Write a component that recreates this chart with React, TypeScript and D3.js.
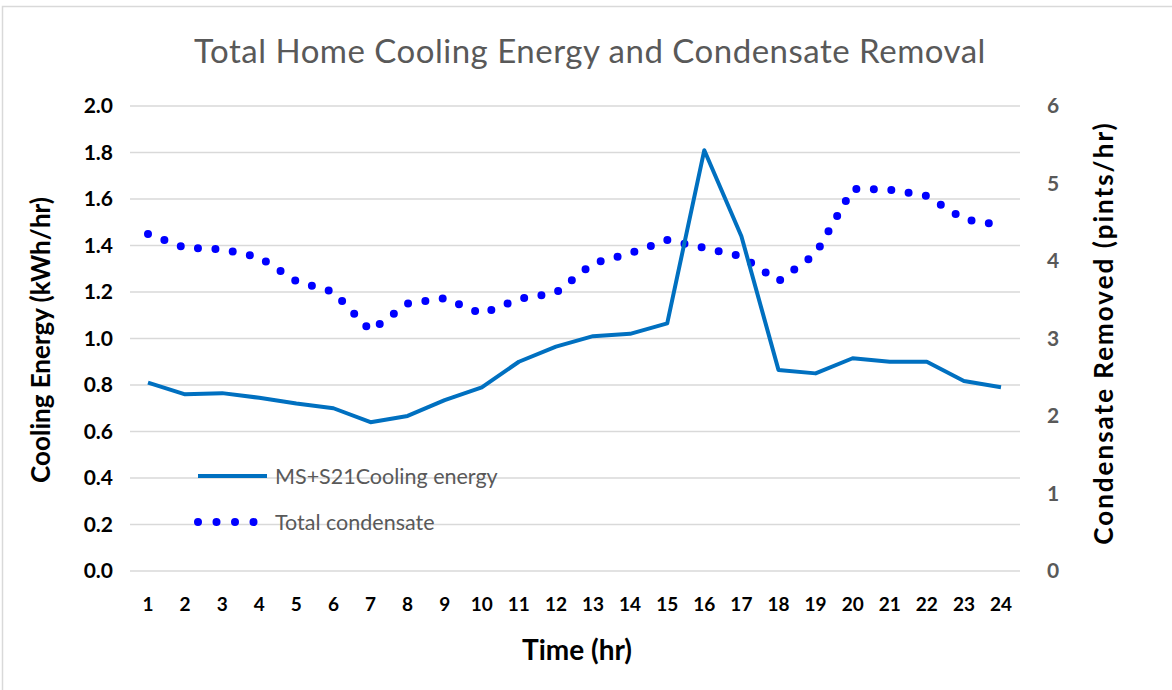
import React, { useEffect, useRef } from "react";
import * as d3 from "d3";

// hours on the x axis
const hours = d3.range(1, 25).map(String);

// MS+S21 cooling energy, kWh/hr (left axis)
const coolingEnergy = [
  0.81, 0.76, 0.765, 0.745, 0.72, 0.70, 0.64, 0.667, 0.735, 0.79, 0.90, 0.965,
  1.01, 1.02, 1.065, 1.81, 1.44, 0.865, 0.85, 0.915, 0.90, 0.90, 0.817, 0.79,
];

// total condensate, pints/hr (right axis)
const condensate = [
  4.35, 4.17, 4.15, 4.05, 3.74, 3.6, 3.1, 3.45, 3.52, 3.32, 3.51, 3.59,
  3.97, 4.1, 4.27, 4.17, 4.06, 3.74, 4.09, 4.93, 4.92, 4.84, 4.54, 4.46,
];

const leftTicks = [0, 0.2, 0.4, 0.6, 0.8, 1.0, 1.2, 1.4, 1.6, 1.8, 2.0];
const rightTicks = [0, 1, 2, 3, 4, 5, 6];

const W = 1172, H = 690;
const FONT = "Lato, 'Open Sans', sans-serif";

function App() {
  const ref = useRef<SVGSVGElement>(null);

  useEffect(() => {
    const svg = d3.select(ref.current);
    svg.selectAll("*").remove();

    const left = 130, right = 1020, top = 106, bottom = 571;

    const x = d3.scalePoint().domain(hours).range([148, 1001]);
    const yL = d3.scaleLinear().domain([0, 2]).range([bottom, top]);
    const yR = d3.scaleLinear().domain([0, 6]).range([bottom, top]);

    // chart border
    svg.append("rect")
      .attr("x", 2.5).attr("y", 6.5)
      .attr("width", W + 10).attr("height", H + 10)
      .attr("fill", "white").attr("stroke", "#d9d9d9").attr("stroke-width", 1.5);

    // gridlines
    svg.append("g")
      .selectAll("line")
      .data(leftTicks)
      .enter()
      .append("line")
      .attr("x1", left).attr("x2", right)
      .attr("y1", d => yL(d)).attr("y2", d => yL(d))
      .attr("stroke", "#d9d9d9").attr("stroke-width", 1.3);

    // title
    svg.append("text")
      .attr("x", 590).attr("y", 63)
      .attr("text-anchor", "middle")
      .style("font-family", FONT)
      .style("font-size", "33px")
      .style("letter-spacing", "0.5px")
      .style("fill", "#595959")
      .text("Total Home Cooling Energy and Condensate Removal");

    // left tick labels
    svg.append("g")
      .selectAll("text")
      .data(leftTicks)
      .enter()
      .append("text")
      .attr("x", 113).attr("y", d => yL(d))
      .attr("dy", "0.35em")
      .attr("text-anchor", "end")
      .style("font-family", FONT)
      .style("font-size", "21px")
      .style("font-weight", "bold")
      .style("fill", "#000")
      .text(d => d.toFixed(1));

    // right tick labels
    svg.append("g")
      .selectAll("text")
      .data(rightTicks)
      .enter()
      .append("text")
      .attr("x", 1047).attr("y", d => yR(d))
      .attr("dy", "0.35em")
      .style("font-family", FONT)
      .style("font-size", "21px")
      .style("font-weight", "bold")
      .style("fill", "#595959")
      .text(d => String(d));

    // x tick labels
    svg.append("g")
      .selectAll("text")
      .data(hours)
      .enter()
      .append("text")
      .attr("x", d => x(d)!).attr("y", 604)
      .attr("dy", "0.35em")
      .attr("text-anchor", "middle")
      .style("font-family", FONT)
      .style("font-size", "19px")
      .style("font-weight", "bold")
      .style("fill", "#000")
      .text(d => d);

    // axis titles
    svg.append("text")
      .attr("x", 577).attr("y", 650)
      .attr("dy", "0.35em")
      .attr("text-anchor", "middle")
      .style("font-family", FONT)
      .style("font-size", "28px")
      .style("font-weight", "bold")
      .text("Time (hr)");

    svg.append("text")
      .attr("transform", "translate(41,340) rotate(-90)")
      .attr("dy", "0.35em")
      .attr("text-anchor", "middle")
      .style("font-family", FONT)
      .style("font-size", "26px")
      .style("font-weight", "bold")
      .text("Cooling Energy (kWh/hr)");

    svg.append("text")
      .attr("transform", "translate(1104,333) rotate(-90)")
      .attr("dy", "0.35em")
      .attr("text-anchor", "middle")
      .style("font-family", FONT)
      .style("font-size", "26px")
      .style("font-weight", "bold")
      .style("letter-spacing", "2px")
      .text("Condensate Removed (pints/hr)");

    // condensate dotted line
    const lineR = d3.line<number>()
      .x((d, i) => x(hours[i])!)
      .y(d => yR(d));
    svg.append("path")
      .datum(condensate)
      .attr("d", lineR)
      .attr("fill", "none")
      .attr("stroke", "#0000ff")
      .attr("stroke-width", 8)
      .attr("stroke-linecap", "round")
      .attr("stroke-dasharray", "0 17.5");

    // cooling energy line
    const lineL = d3.line<number>()
      .x((d, i) => x(hours[i])!)
      .y(d => yL(d));
    svg.append("path")
      .datum(coolingEnergy)
      .attr("d", lineL)
      .attr("fill", "none")
      .attr("stroke", "#0070c0")
      .attr("stroke-width", 4)
      .attr("stroke-linejoin", "round");

    // legend
    const lg = svg.append("g");
    lg.append("line")
      .attr("x1", 198).attr("x2", 267)
      .attr("y1", 476).attr("y2", 476)
      .attr("stroke", "#0070c0").attr("stroke-width", 4);
    lg.append("text")
      .attr("x", 275).attr("y", 476).attr("dy", "0.35em")
      .style("font-family", FONT).style("font-size", "21.5px")
      .style("fill", "#595959")
      .text("MS+S21Cooling energy");
    lg.append("line")
      .attr("x1", 198).attr("x2", 254)
      .attr("y1", 522).attr("y2", 522)
      .attr("stroke", "#0000ff").attr("stroke-width", 8)
      .attr("stroke-linecap", "round")
      .attr("stroke-dasharray", "0 18.5");
    lg.append("text")
      .attr("x", 275).attr("y", 522).attr("dy", "0.35em")
      .style("font-family", FONT).style("font-size", "21.5px")
      .style("fill", "#595959")
      .text("Total condensate");
  }, []);

  return (
    <svg
      ref={ref}
      width={W}
      height={H}
      style={{ position: "absolute", left: 0, top: 0, display: "block" }}
    />
  );
}

export default App;
